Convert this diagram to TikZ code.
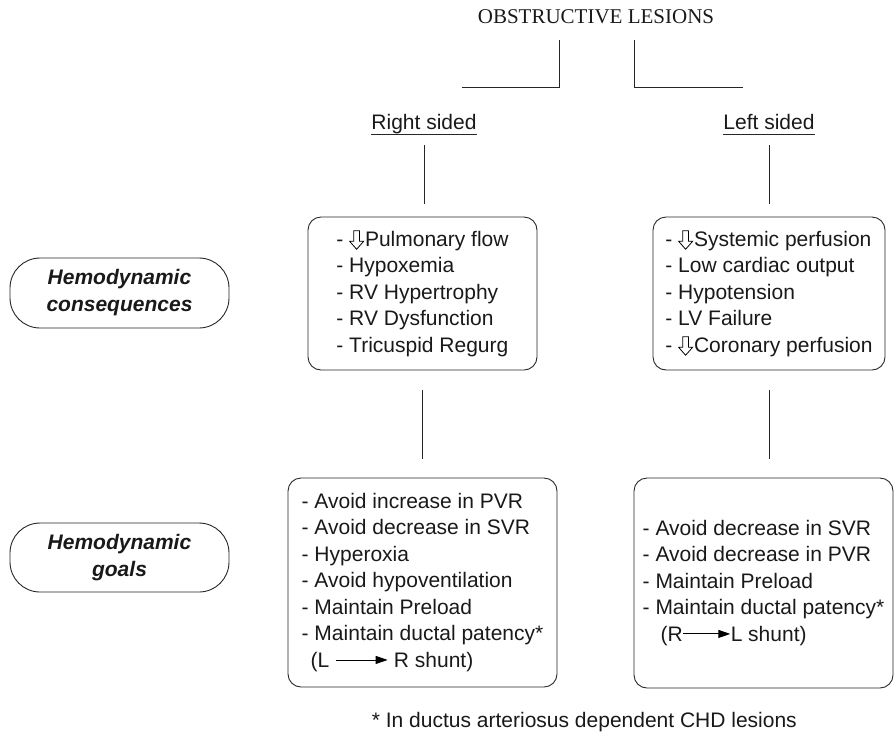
\documentclass[tikz,border=0pt]{standalone}
\usepackage{fontspec}
\setmainfont{Liberation Sans}
\newfontfamily\titlefont{Liberation Serif}
\usetikzlibrary{arrows.meta,calc}

% hollow "decrease" arrow and the shunt arrows used inside the lists
\newsavebox\dnarrowbox
\newsavebox\shuntlongbox
\newsavebox\shuntshortbox
\newcommand\shuntarrow[1]{%
  \begin{pgfpicture}
    \pgfsetlinewidth{0.9pt}%
    \pgfsetarrowsend{Triangle[length=12pt,width=8pt]}%
    \pgfpathmoveto{\pgfpoint{0pt}{0pt}}%
    \pgfpathlineto{\pgfpoint{#1}{0pt}}%
    \pgfusepath{stroke}%
    \pgfsetbaseline{-7.5pt}%
  \end{pgfpicture}}

\begin{document}
\sbox\dnarrowbox{%
  \begin{pgfpicture}
    \pgfsetlinewidth{0.8pt}%
    \pgfsetmiterjoin
    \pgfpathmoveto{\pgfpoint{-2.8pt}{15.5pt}}%
    \pgfpathlineto{\pgfpoint{2.8pt}{15.5pt}}%
    \pgfpathlineto{\pgfpoint{2.8pt}{5pt}}%
    \pgfpathlineto{\pgfpoint{7pt}{5pt}}%
    \pgfpathlineto{\pgfpoint{0pt}{-3pt}}%
    \pgfpathlineto{\pgfpoint{-7pt}{5pt}}%
    \pgfpathlineto{\pgfpoint{-2.8pt}{5pt}}%
    \pgfpathclose
    \pgfusepath{stroke}%
    \pgfsetbaseline{0pt}%
  \end{pgfpicture}\kern1pt}
\sbox\shuntlongbox{\shuntarrow{52pt}}
\sbox\shuntshortbox{\shuntarrow{47pt}}

\begin{tikzpicture}[x=1pt,y=-1pt,
  txt/.style={font={\fontsize{21}{26.5}\selectfont},text=black!90},
  line/.style={draw=black!85,line width=0.9pt},
  listbox/.style={txt,line,rounded corners=13pt,align=left,inner sep=0pt},
  labelbox/.style={line,rounded corners=30pt,align=center,inner sep=0pt,
    font={\fontsize{21}{27}\selectfont\bfseries\itshape},text=black!90},
  side/.style={txt,inner sep=0pt,text depth=4.5pt,anchor=base}
]
\useasboundingbox (0,0) rectangle (896,740);

% heading and its two branches
\node[txt,font={\fontsize{21}{25}\titlefont}] (title) at (596,17) {OBSTRUCTIVE LESIONS};
\coordinate (bl top) at (559,40);
\coordinate (bl end) at (462,87);
\coordinate (br top) at (634,40);
\coordinate (br end) at (743,87);
\draw[line] (bl top) |- (bl end);
\draw[line] (br top) |- (br end);

% side headings, underlined
\node[side] (rs) at (424,129.5) {Right sided};
\node[side] (ls) at (769,129.5) {Left sided};
\draw[line] (rs.south west) -- (rs.south east);
\draw[line] (ls.south west) -- (ls.south east);

% row labels
\node[labelbox,minimum width=219pt,minimum height=70pt] (hc) at (119.5,293)
  {Hemodynamic\\consequences};
\node[labelbox,minimum width=219pt,minimum height=69pt] (hg) at (119.5,557.5)
  {Hemodynamic\\goals};

% consequences
\node[listbox,minimum width=229pt,minimum height=153pt] (cr) at (422.5,293.5)
  {- \usebox\dnarrowbox Pulmonary flow\\
   - Hypoxemia\\
   - RV Hypertrophy\\
   - RV Dysfunction\\
   - Tricuspid Regurg};
\node[listbox,minimum width=232pt,minimum height=153pt] (cl) at (769,293.5)
  {- \usebox\dnarrowbox Systemic perfusion\\
   - Low cardiac output\\
   - Hypotension\\
   - LV Failure\\
   - \usebox\dnarrowbox Coronary perfusion};

% goals
\node[listbox,minimum width=269pt,minimum height=209pt] (gr) at (422.5,582.5)
  {- Avoid increase in PVR\\
   - Avoid decrease in SVR\\
   - Hyperoxia\\
   - Avoid hypoventilation\\
   - Maintain Preload\\
   - Maintain ductal patency*\\
   \hspace*{9pt}(L \usebox\shuntlongbox\ R shunt)};
\node[listbox,minimum width=259pt,minimum height=210pt] (gl) at (763.5,583)
  {- Avoid decrease in SVR\\
   - Avoid decrease in PVR\\
   - Maintain Preload\\
   - Maintain ductal patency*\\
   \hspace*{18pt}(R\usebox\shuntshortbox L shunt)};

% connectors
\draw[line,shorten <=11pt,shorten >=13pt] (rs.south) -- (rs.south |- cr.north);
\draw[line,shorten <=11pt,shorten >=13pt] (ls.south) -- (ls.south |- cl.north);
\draw[line,shorten <=20pt,shorten >=19pt] (cr.south) -- (cr.south |- gr.north);
\draw[line,shorten <=20pt,shorten >=19pt] (cl.south) -- (cl.south |- gl.north);

% footnote
\node[txt,anchor=east,inner sep=0pt] (note) at (797,722)
  {* In ductus arteriosus dependent CHD lesions};
\end{tikzpicture}
\end{document}
